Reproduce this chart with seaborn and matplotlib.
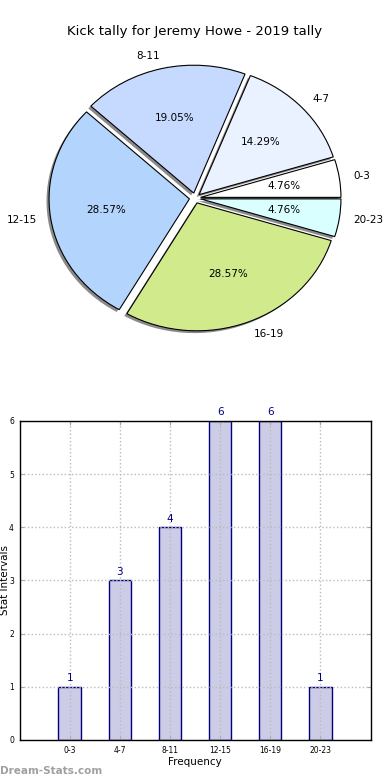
import matplotlib
matplotlib.use('Agg')
import matplotlib.pyplot as plt
import seaborn as sns
import pandas as pd

# data
intervals = ['0-3', '4-7', '8-11', '12-15', '16-19', '20-23']
counts = [1, 3, 4, 6, 6, 1]
pie_colors = ['#ffffff', '#eaf1ff', '#c6d9fe', '#b3d5fd', '#d1eb8c', '#d9ffff']
title = 'Kick tally for Jeremy Howe - 2019 tally'

plt.rcParams['font.family'] = ['DejaVu Sans']

fig = plt.figure(figsize=(3.9, 7.8), dpi=100)

# ---- pie ----
ax1 = fig.add_axes([0.05, 0.541, 0.9, 0.41])
wedges, texts, autotexts = ax1.pie(counts, labels=intervals, colors=pie_colors,
                                   explode=[0.04] * len(counts),
                                   shadow={'ox': -0.013, 'oy': -0.013, 'facecolor': '#8a8a8a',
                                           'edgecolor': 'none', 'alpha': 1},
                                   startangle=0, autopct='%1.2f%%',
                                   wedgeprops={'edgecolor': 'black', 'linewidth': 0.8},
                                   textprops={'fontsize': 7.5})
ax1.set_aspect('auto')
ax1.set_xlim(-1.25, 1.25)
ax1.set_ylim(-1.25, 1.25)
ax1.set_title(title, fontsize=9.5, pad=2)

# ---- bars ----
ax2 = fig.add_axes([0.05, 0.0513, 0.9, 0.409])
df = pd.DataFrame({'interval': intervals, 'count': counts})
sns.barplot(data=df, x='interval', y='count', ax=ax2, width=0.45,
            color='#cccce6', saturation=1, edgecolor='navy', linewidth=1, zorder=2)
for i, c in enumerate(counts):
    ax2.text(i, c + 0.07, str(c), ha='center', va='bottom', color='navy', fontsize=7.5)

ax2.set_xlim(-1, 6)
ax2.set_ylim(0, 6)
ax2.set_yticks(range(0, 7))
ax2.grid(True, linestyle=':', color='#bbbbbb', linewidth=1, zorder=3)
ax2.set_axisbelow(False)
ax2.tick_params(direction='in', top=True, right=True, color='#aaaaaa',
                length=3, labelsize=5.5, pad=4)
for s in ax2.spines.values():
    s.set_linewidth(1)
    s.set_color('black')
    s.set_zorder(5)
ax2.set_xlabel('Frequency', fontsize=7.5, labelpad=2)
ax2.set_ylabel('Stat Intervals', fontsize=7.5)
ax2.yaxis.set_label_coords(-0.026, 0.5)

fig.text(0.0, 0.005, 'Dream-Stats.com', fontsize=7.5, weight='bold', color='#a0a0a0',
         ha='left', va='bottom')

fig.savefig('out.png', dpi=100)
